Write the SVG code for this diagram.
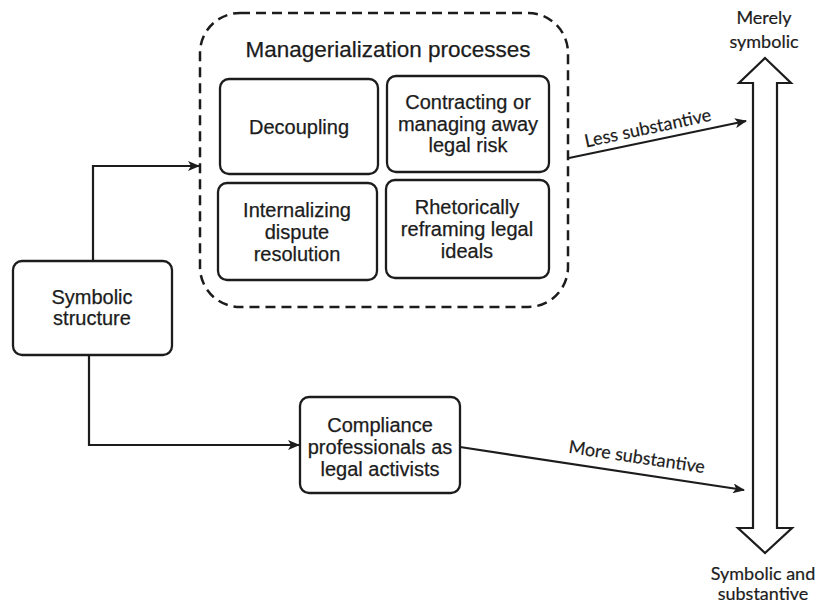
<svg xmlns="http://www.w3.org/2000/svg" width="822" height="605" viewBox="0 0 822 605">
  <style>
    .box { fill: #ffffff; stroke: #1c1c1c; stroke-width: 2.3; }
    .group { fill: none; stroke: #1c1c1c; stroke-width: 2.5; stroke-dasharray: 10 6; }
    .lbl { font-family: "Liberation Sans", Arial, sans-serif; font-size: 20px; fill: #1c1c1c; text-anchor: middle; stroke: #1c1c1c; stroke-width: 0.25; }
    .title { font-size: 22.5px; }
    .side { font-family: Lato, "Open Sans", sans-serif; font-size: 18px; fill: #1c1c1c; text-anchor: middle; stroke: #1c1c1c; stroke-width: 0.2; }
    .wire { fill: none; stroke: #1c1c1c; stroke-width: 2.2; }
    .scale { fill: #ffffff; stroke: #1c1c1c; stroke-width: 2.2; stroke-linejoin: miter; }
  </style>
  <defs>
    <marker id="tip" viewBox="0 0 12 10" refX="11" refY="5" markerWidth="12" markerHeight="10" markerUnits="userSpaceOnUse" orient="auto">
      <path d="M0,0 L12,5 L0,10 L3,5 Z" fill="#1c1c1c"/>
    </marker>
  </defs>
  <rect width="822" height="605" fill="#ffffff"/>

  <!-- managerialization group -->
  <g id="managerialization">
    <rect class="group" x="200" y="13" width="368" height="294" rx="40"/>
    <text class="lbl title" x="388" y="57">Managerialization processes</text>
  </g>

  <g id="decoupling">
    <rect class="box" x="220" y="79" width="158" height="95" rx="9"/>
    <text class="lbl" x="299" y="134">Decoupling</text>
  </g>

  <g id="contracting">
    <rect class="box" x="387" y="76" width="162" height="96" rx="9"/>
    <text class="lbl" x="468" y="109">Contracting or</text>
    <text class="lbl" x="468" y="131">managing away</text>
    <text class="lbl" x="468" y="152">legal risk</text>
  </g>

  <g id="internalizing">
    <rect class="box" x="218" y="183" width="159" height="97" rx="9"/>
    <text class="lbl" x="297" y="217">Internalizing</text>
    <text class="lbl" x="297" y="239">dispute</text>
    <text class="lbl" x="297" y="261">resolution</text>
  </g>

  <g id="rhetorical">
    <rect class="box" x="386" y="180" width="163" height="98" rx="9"/>
    <text class="lbl" x="467" y="214">Rhetorically</text>
    <text class="lbl" x="467" y="236">reframing legal</text>
    <text class="lbl" x="467" y="258">ideals</text>
  </g>

  <g id="symbolic-structure">
    <rect class="box" x="13" y="261" width="159" height="94" rx="9"/>
    <text class="lbl" x="92" y="304">Symbolic</text>
    <text class="lbl" x="92" y="325">structure</text>
  </g>

  <g id="compliance">
    <rect class="box" x="300" y="397" width="160" height="96" rx="9"/>
    <text class="lbl" x="380" y="432">Compliance</text>
    <text class="lbl" x="380" y="454">professionals as</text>
    <text class="lbl" x="380" y="476">legal activists</text>
  </g>

  <!-- symbolic-to-substantive scale -->
  <g id="scale">
    <path class="scale" d="M765,58 L791,83 L777,83 L777,528 L792,528 L765,553 L738,528 L753,528 L753,83 L739,83 Z"/>
    <text class="side" x="764" y="24">Merely</text>
    <text class="side" x="764" y="48">symbolic</text>
    <text class="side" x="763" y="580">Symbolic and</text>
    <text class="side" x="763" y="600">substantive</text>
  </g>

  <g id="connectors">
    <path class="wire" d="M93,261 L93,166 L199,166" marker-end="url(#tip)"/>
    <path class="wire" d="M89,355 L89,445 L299,445" marker-end="url(#tip)"/>
    <path class="wire" d="M569,158 L746,121" marker-end="url(#tip)"/>
    <path class="wire" d="M460,447 L744,490" marker-end="url(#tip)"/>
    <text class="side" transform="translate(649,134) rotate(-12)">Less substantive</text>
    <text class="side" transform="translate(636,463) rotate(8.6)">More substantive</text>
  </g>
</svg>
